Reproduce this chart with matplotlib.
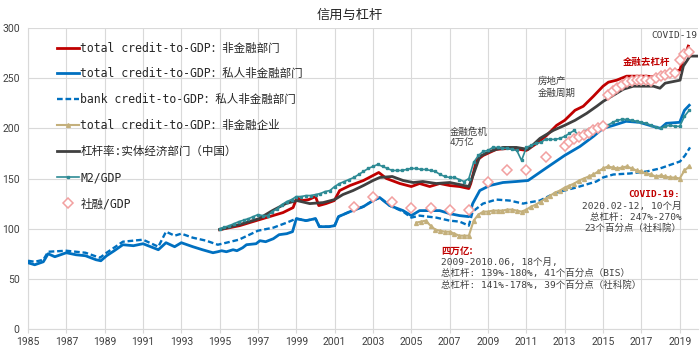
import numpy as np
import matplotlib
matplotlib.use("Agg")
import matplotlib.pyplot as plt

# BIS total credit to private non-financial sector (% of GDP)
private_years = [1985.0, 1985.35, 1985.8, 1986.05, 1986.4, 1987.0, 1987.5, 1988.0, 1988.55, 1988.8,
                 1989.1, 1989.5, 1989.95, 1990.5, 1991.0, 1991.4, 1991.8, 1992.2, 1992.65, 1993.0,
                 1993.6, 1994.1, 1994.65, 1994.9, 1995.1, 1995.35, 1995.7, 1995.9, 1996.2, 1996.4,
                 1996.9, 1997.1, 1997.4, 1997.8, 1998.1, 1998.5, 1998.8, 1999.0, 1999.5, 2000.0,
                 2000.2, 2000.7, 2001.0, 2001.2, 2001.8, 2002.5, 2003.0, 2003.35, 2003.87, 2004.57,
                 2005.0, 2005.43, 2005.96, 2006.48, 2007.0, 2007.52, 2008.0, 2008.2, 2008.57, 2009.09,
                 2009.78, 2010.48, 2011.09, 2012.0, 2013.0, 2013.8, 2014.5, 2015.0, 2015.55, 2016.2,
                 2016.9, 2017.6, 2018.0, 2018.3, 2019.0, 2019.25, 2019.5]
private_vals = [66, 64, 67, 75, 72, 76, 74, 73, 69, 68,
                73, 78, 84, 83, 85, 82, 79, 86, 82, 86,
                82, 79, 76, 77, 78, 77, 79, 78, 81, 84,
                85, 88, 87, 90, 94, 95, 97, 110, 108, 110,
                102, 102, 103, 112, 117, 122, 128, 131, 123, 118,
                113, 118, 118, 118, 115, 113, 112, 125, 138, 143,
                146, 147, 148, 160, 173, 182, 192, 200, 203, 207,
                206, 202, 200, 205, 206, 218, 223]

# BIS bank credit to private non-financial sector
bank_years = [1985.0, 1985.35, 1985.8, 1986.05, 1987.0, 1988.0, 1988.75, 1989.1, 1989.95, 1991.0,
              1991.8, 1992.2, 1992.65, 1993.0, 1993.6, 1994.3, 1994.9, 1995.35, 1996.0, 1997.0,
              1997.8, 1998.5, 1999.0, 1999.5, 2000.0, 2000.2, 2000.7, 2001.0, 2001.2, 2001.8,
              2002.5, 2003.0, 2003.35, 2003.87, 2004.57, 2005.0, 2005.43, 2006.3, 2007.0, 2007.52,
              2008.0, 2008.2, 2008.74, 2009.43, 2010.13, 2010.83, 2011.09, 2011.7, 2012.56, 2013.6,
              2014.65, 2015.0, 2015.54, 2016.4, 2017.28, 2017.97, 2019.02, 2019.28, 2019.54]
bank_vals = [68, 67, 69, 77, 78, 76, 71, 76, 87, 89,
             82, 97, 93, 95, 91, 88, 84, 86, 89, 98,
             101, 106, 110, 108, 110, 102, 102, 103, 112, 117,
             122, 128, 131, 123, 117, 111, 113, 111, 108, 107,
             103, 117, 125, 129, 128, 125, 126, 128, 136, 141,
             147, 151, 154, 155, 157, 160, 167, 173, 181]

# BIS total credit to non-financial sector
total_years = [1995.0, 1996.04, 1996.9, 1997.6, 1998.3, 1998.83, 1999.03, 1999.3, 1999.65, 2000.0,
               2000.17, 2000.55, 2000.98, 2001.26, 2001.8, 2002.5, 2003.0, 2003.3, 2003.7, 2004.4,
               2005.0, 2005.43, 2005.96, 2006.48, 2007.0, 2007.52, 2008.0, 2008.1, 2008.4, 2008.75,
               2009.43, 2010.1, 2010.65, 2011.0, 2011.54, 2012.06, 2012.58, 2013.0, 2013.54, 2013.97,
               2014.5, 2015.0, 2015.28, 2015.71, 2016.23, 2016.76, 2017.28, 2017.8, 2018.15, 2018.32,
               2019.0, 2019.19, 2019.45]
total_vals = [99, 103, 108, 112, 116, 121, 131, 128, 129, 132,
              123, 125, 128, 138, 143, 148, 153, 156, 150, 145,
              142, 145, 142, 145, 143, 142, 140, 145, 168, 173,
              179, 180, 179, 178, 185, 193, 203, 208, 218, 222,
              232, 242, 246, 248, 252, 252, 252, 251, 252, 255,
              258, 268, 282]

# 杠杆率: 实体经济部门 (社科院)
nifd_years = [1995.0, 1996.2, 1997.05, 1997.75, 1998.45, 1999.03, 1999.7, 2000.4, 2001.0, 2001.43,
              2001.96, 2002.5, 2003.0, 2003.35, 2004.0, 2004.57, 2005.1, 2005.6, 2006.3, 2007.0,
              2007.52, 2008.0, 2008.2, 2008.57, 2009.09, 2009.78, 2010.48, 2011.09, 2011.71, 2012.41,
              2013.0, 2013.54, 2014.15, 2014.67, 2015.02, 2015.54, 2016.06, 2016.58, 2017.28, 2017.63,
              2017.97, 2018.24, 2019.02, 2019.19, 2019.54, 2019.89]
nifd_vals = [99, 105, 110, 118, 125, 128, 125, 126, 129, 134,
             138, 143, 148, 151, 152, 148, 146, 147, 145, 146,
             144, 142, 152, 172, 177, 181, 181, 179, 190, 198,
             203, 208, 215, 222, 227, 233, 239, 242, 242, 242,
             240, 245, 248, 262, 272, 272]

# M2/GDP, quarterly from 1995Q1
m2_start = 1995.0
m2_vals = [100, 101.5, 103, 105, 107, 108.5, 110, 112, 114, 113, 113, 117,
           120, 124, 127, 129, 132, 132, 133, 133, 134, 135, 137, 138,
           142, 145, 147, 149, 151, 154, 157, 160, 162, 164, 162, 160,
           158, 158, 158, 159, 160, 160, 159, 159, 158, 157, 154, 152,
           151, 151, 149, 147, 150, 166, 173, 177, 178, 181, 181, 180,
           180, 179, 178, 168, 181, 183, 185, 186, 189, 189, 189, 190,
           192, 195, 198, 192, 197, 199, 198, 198, 201, 203, 206, 208,
           209, 209, 208, 207, 206, 205, 203, 201, 200, 202, 203, 202,
           202, 212, 218]

# BIS total credit to non-financial corporations, quarterly from 2005Q2
corp_start = 2005.25
corp_vals = [106, 107, 108, 103, 99, 98, 97, 97, 95, 93, 93,
             93, 108, 114, 117, 117, 118, 118, 118, 119, 119, 118, 117,
             119, 122, 124, 127, 130, 133, 136, 138, 141, 143, 145, 148,
             150, 152, 154, 157, 160, 162, 161, 160, 161, 162, 160, 158,
             157, 155, 154, 152, 153, 152, 151, 151, 150, 158, 162]

# 社融/GDP
tsf_years = [2002, 2003, 2004, 2005, 2006, 2007, 2008, 2009, 2010, 2011, 2012,
             2013.0, 2013.25, 2013.5, 2013.75, 2014.0, 2014.25, 2014.5, 2014.75, 2015.0,
             2015.25, 2015.5, 2015.75, 2016.0, 2016.25, 2016.5, 2016.75, 2017.0, 2017.25,
             2017.5, 2017.75, 2018.0, 2018.25, 2018.5, 2018.75, 2019.0, 2019.25, 2019.5]
tsf_vals = [122, 132, 127, 121, 121, 119, 119, 147, 158, 158, 171,
            182, 186, 189, 191, 193, 195, 198, 200, 202,
            233, 237, 240, 243, 246, 247, 248, 248, 248,
            247, 250, 252, 253, 255, 255, 268, 274, 276]

labels = ["total credit-to-GDP：非金融部门",
          "total credit-to-GDP：私人非金融部门",
          "bank credit-to-GDP：私人非金融部门",
          "total credit-to-GDP：非金融企业",
          "杠杆率:实体经济部门（中国）",
          "M2/GDP",
          "社融/GDP"]

mono_cjk = ["DejaVu Sans Mono", "Noto Sans CJK SC"]
cjk = ["Noto Sans CJK SC", "DejaVu Sans"]
grey_txt = "#404040"
red_txt = "#c00000"

m2_years = m2_start + 0.25 * np.arange(len(m2_vals))
corp_years = corp_start + 0.25 * np.arange(len(corp_vals))

fig = plt.figure(figsize=(7, 3.51), dpi=100)
ax = fig.add_axes([0.04, 0.0627, 0.957, 0.8575])

ax.plot(total_years, total_vals, color="#c00000", lw=2.0, label=labels[0], zorder=3)
ax.plot(private_years, private_vals, color="#0070c0", lw=2.0, label=labels[1], zorder=3)
ax.plot(bank_years, bank_vals, color="#0070c0", lw=1.7, dashes=(2.4, 1.2), label=labels[2], zorder=3)
ax.plot(corp_years, corp_vals, color="#c4b07c", lw=1.5, marker="^", ms=2.8, label=labels[3], zorder=3)
ax.plot(nifd_years, nifd_vals, color="#404040", lw=2.0, label=labels[4], zorder=3)
ax.plot(m2_years, m2_vals, color="#2e8b95", lw=1.2, marker="s", ms=1.8, label=labels[5], zorder=4)
ax.plot(tsf_years, tsf_vals, ls="none", marker="D", ms=4.8, mfc="white", mec="#f2a0a0", mew=1.1,
        label=labels[6], zorder=5)

ax.set_xlim(1985, 2019.95)
ax.set_ylim(0, 300)
ax.set_xticks(np.arange(1985, 2020, 2))
ax.set_yticks(np.arange(0, 301, 50))
ax.grid(True, color="#d9d9d9", lw=0.8)
ax.set_axisbelow(True)
for s in ["top", "right"]:
    ax.spines[s].set_visible(False)
for s in ["left", "bottom"]:
    ax.spines[s].set_color("#d9d9d9")
ax.tick_params(axis="y", length=0, pad=6, labelsize=7.5, labelcolor="#404040")
ax.tick_params(axis="x", length=3, color="#d9d9d9", pad=3, labelsize=7.5, labelcolor="#404040")
for t in ax.get_xticklabels() + ax.get_yticklabels():
    t.set_fontfamily("Roboto")

fig.text(0.5, 0.957, "信用与杠杆", ha="center", va="center", fontsize=9.5,
         family=cjk, color="#262626")

leg = ax.legend(loc="upper left", bbox_to_anchor=(0.043, 0.955), frameon=False,
                prop={"family": mono_cjk, "size": 8.3}, handlelength=1.9,
                handletextpad=0.15, labelspacing=1.12, borderaxespad=0, borderpad=0)
for t in leg.get_texts():
    t.set_color("#262626")

kw = dict(family=mono_cjk, fontsize=6.8, color=grey_txt)
ax.text(2018.7, 293, "COVID-19", ha="center", va="center", **kw)
ax.text(2016.05, 266, "金融去杠杆", ha="left", va="center", family=cjk, fontsize=6.8,
        color=red_txt, fontweight="bold")
ax.text(2011.6, 241, "房地产\n金融周期", ha="left", va="center", family=cjk, fontsize=6.8,
        color=grey_txt, linespacing=1.3)
ax.text(2007.0, 191, "金融危机\n4万亿", ha="left", va="center", family=mono_cjk, fontsize=6.8,
        color=grey_txt, linespacing=1.3)

ax.text(2019.0, 134, "COVID-19:", ha="right", va="center", family=mono_cjk, fontsize=6.8,
        color=red_txt, fontweight="bold")
ax.text(2019.1, 111, "2020.02-12, 10个月\n总杠杆: 247%-270%\n23个百分点（社科院）",
        ha="right", va="center", multialignment="right", linespacing=1.25, **kw)

ax.text(2006.55, 78, "四万亿:", ha="left", va="center", family=cjk, fontsize=6.8,
        color=red_txt, fontweight="bold")
ax.text(2006.55, 55, "2009-2010.06, 18个月,\n总杠杆: 139%-180%, 41个百分点（BIS）\n"
        "总杠杆: 141%-178%, 39个百分点（社科院）",
        ha="left", va="center", linespacing=1.25, **kw)

fig.savefig("out.png", dpi=100)
